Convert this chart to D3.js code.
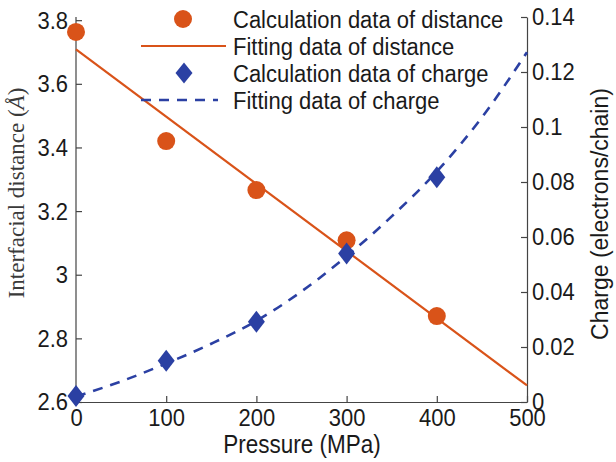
<!DOCTYPE html>
<html><head><meta charset="utf-8">
<script src="https://cdn.jsdelivr.net/npm/d3@7"></script>
<style>
body{margin:0;background:#fff}
.st{transform-box:fill-box;transform-origin:center;transform:scaleY(1.12)}
</style>
</head><body>
<script>
const pressure = [0, 100, 200, 300, 400];
const distanceCalc = [3.763, 3.42, 3.266, 3.108, 2.87];
const distanceFitX = [0, 500];
const distanceFit = [3.708, 2.652];
const chargeCalc = [0.0022, 0.015, 0.0292, 0.054, 0.0817];
const chargeFitX = [0, 50, 100, 150, 200, 250, 300, 350, 400, 450, 500];
const chargeFit = [0.002, 0.0075, 0.014, 0.0212, 0.0295, 0.0402, 0.053, 0.0675, 0.0838, 0.1035, 0.1272];
const xTicks = [0, 100, 200, 300, 400, 500];
const yLeftTicks = [2.6, 2.8, 3.0, 3.2, 3.4, 3.6, 3.8];
const yRightTicks = [0, 0.02, 0.04, 0.06, 0.08, 0.1, 0.12, 0.14];
const legendLabels = ["Calculation data of distance", "Fitting data of distance", "Calculation data of charge", "Fitting data of charge"];

const W = 616, H = 462;
const L = 76, R = 527, T = 17, B = 402;
const orange = "#d95319", blue = "#2b40a3", axisC = "#444";
const sans = "Liberation Sans, Arial, sans-serif";

const svg = d3.select("body").append("svg").attr("width", W).attr("height", H);
const x = d3.scaleLinear().domain([0, 500]).range([L, R]);
const yL = d3.scaleLinear().domain([2.6, 3.81]).range([B, T]);
const yR = d3.scaleLinear().domain([0, 0.14]).range([B, T]);

const fmtL = d => d3.format("")(+d.toFixed(1));
const fmtR = d => d3.format("")(+d.toFixed(2));

function styleAxis(g){
  g.selectAll("path").attr("stroke", axisC).attr("stroke-width", 1.2);
  g.selectAll("line").attr("stroke", axisC).attr("stroke-width", 1.2);
  g.selectAll("text").attr("fill", "#1a1a1a").attr("class", "st")
    .style("font-family", sans).style("font-size", "22px");
}

// bottom axis (inward ticks)
const gx = svg.append("g").attr("transform", `translate(0,${B})`)
  .call(d3.axisBottom(x).tickValues(xTicks).tickSizeInner(-6).tickSizeOuter(0).tickPadding(7));
styleAxis(gx);

// left axis
const gl = svg.append("g").attr("transform", `translate(${L},0)`)
  .call(d3.axisLeft(yL).tickValues(yLeftTicks).tickFormat(fmtL).tickSizeInner(-6).tickSizeOuter(0).tickPadding(8));
styleAxis(gl);
gl.select("path").attr("d", `M0,${B}V${T}`);

// right axis
const gr = svg.append("g").attr("transform", `translate(${R},0)`)
  .call(d3.axisRight(yR).tickValues(yRightTicks).tickFormat(fmtR).tickSizeInner(-6).tickSizeOuter(0).tickPadding(5));
styleAxis(gr);

// distance fit line
svg.append("path")
  .datum(distanceFitX.map((p, i) => [p, distanceFit[i]]))
  .attr("fill", "none").attr("stroke", orange).attr("stroke-width", 2.2)
  .attr("d", d3.line().x(d => x(d[0])).y(d => yL(d[1])));

// charge fit line
svg.append("path")
  .datum(chargeFitX.map((p, i) => [p, chargeFit[i]]))
  .attr("fill", "none").attr("stroke", blue).attr("stroke-width", 2.6)
  .attr("stroke-dasharray", "10,8")
  .attr("d", d3.line().curve(d3.curveMonotoneX).x(d => x(d[0])).y(d => yR(d[1])));

// distance markers
svg.append("g").selectAll("circle").data(pressure).join("circle")
  .attr("cx", d => x(d)).attr("cy", (d, i) => yL(distanceCalc[i]))
  .attr("r", 9).attr("fill", orange);

// charge markers (diamonds)
const diamond = (cx, cy, w, h) => `M${cx},${cy - h/2}L${cx + w/2},${cy}L${cx},${cy + h/2}L${cx - w/2},${cy}Z`;
svg.append("g").selectAll("path").data(pressure).join("path")
  .attr("d", (d, i) => diamond(x(d), yR(chargeCalc[i]), 17, 22))
  .attr("fill", blue);

// legend
const lg = svg.append("g").style("font-family", sans).style("font-size", "22px");
const rowY = [19, 46, 73, 100];
const textX = 233;
legendLabels.forEach((t, i) => {
  lg.append("text").attr("class", "st").attr("x", textX).attr("y", rowY[i]).attr("dy", "0.35em").attr("fill", "#1a1a1a").text(t);
});
lg.append("circle").attr("cx", 183).attr("cy", rowY[0]).attr("r", 9).attr("fill", orange);
lg.append("line").attr("x1", 141).attr("x2", 226).attr("y1", rowY[1]).attr("y2", rowY[1]).attr("stroke", orange).attr("stroke-width", 2.2);
lg.append("path").attr("d", diamond(184, rowY[2], 17, 21)).attr("fill", blue);
lg.append("line").attr("x1", 141).attr("x2", 218).attr("y1", rowY[3]).attr("y2", rowY[3]).attr("stroke", blue).attr("stroke-width", 2.6).attr("stroke-dasharray", "10,8");

// axis titles
svg.append("text").attr("class", "st").attr("x", 302).attr("y", 452).attr("text-anchor", "middle")
  .style("font-family", sans).style("font-size", "22.5px").attr("fill", "#1a1a1a")
  .text("Pressure (MPa)");

const ylab = svg.append("text").attr("transform", "translate(24,193) rotate(-90)").attr("text-anchor", "middle")
  .style("font-family", "Liberation Serif, Times New Roman, serif").style("font-size", "23px").attr("fill", "#3a3a3a");
ylab.append("tspan").text("Interfacial distance (");
ylab.append("tspan").style("font-style", "italic").text("Å");
ylab.append("tspan").text(")");

svg.append("text").attr("transform", "translate(600,214) rotate(-90)").attr("text-anchor", "middle")
  .attr("dy", "0.35em")
  .style("font-family", sans).style("font-size", "23px").attr("fill", "#1a1a1a")
  .text("Charge (electrons/chain)");
</script>
</body></html>
